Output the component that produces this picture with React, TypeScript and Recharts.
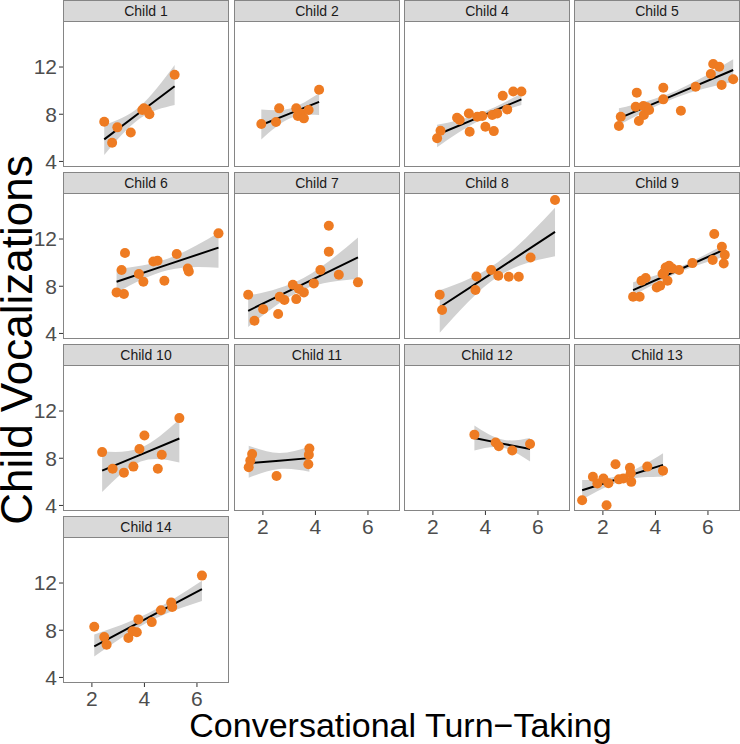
import React from "react";
import { ComposedChart, XAxis, YAxis, Area, Line, Scatter } from "recharts";

const panelNames = ["Child 1", "Child 2", "Child 4", "Child 5", "Child 6", "Child 7", "Child 8", "Child 9", "Child 10", "Child 11", "Child 12", "Child 13", "Child 14"];

const X_TICKS = [2, 4, 6];
const Y_TICKS = [4, 8, 12];

// observed points [turn-taking, vocalizations]
const pts1 = [[2.47, 7.37], [2.77, 5.59], [2.97, 6.89], [3.48, 6.46], [3.92, 8.36], [3.98, 8.5], [4.09, 8.36], [4.19, 8.0], [5.15, 11.35]];
const pts2 = [[1.94, 7.17], [2.5, 7.34], [2.62, 8.5], [3.27, 8.5], [3.33, 7.85], [3.43, 8.07], [3.56, 7.65], [3.74, 8.36], [4.14, 10.08]];
const pts4 = [[2.16, 5.96], [2.29, 6.6], [2.92, 7.7], [3.02, 7.51], [3.37, 8.07], [3.4, 6.51], [3.69, 7.79], [3.88, 7.85], [4.0, 6.94], [4.26, 7.94], [4.32, 6.57], [4.45, 8.07], [4.66, 9.56], [4.83, 8.41], [5.06, 9.93], [5.37, 9.93]];
const pts5 = [[2.61, 7.0], [2.68, 7.79], [3.25, 8.64], [3.29, 9.83], [3.37, 7.42], [3.54, 8.7], [3.56, 7.94], [3.67, 8.59], [3.76, 8.36], [4.3, 10.25], [4.3, 9.26], [4.97, 8.3], [5.53, 10.33], [6.11, 11.41], [6.2, 12.25], [6.43, 12.03], [6.52, 10.47], [6.96, 10.96]];
const pts6 = [[2.94, 7.48], [3.22, 7.34], [3.13, 9.37], [3.26, 10.81], [3.79, 9.04], [3.96, 8.38], [4.34, 10.1], [4.5, 10.16], [4.76, 8.46], [5.23, 10.73], [5.65, 9.5], [5.69, 9.25], [6.82, 12.48]];
const pts7 = [[1.44, 7.28], [1.68, 5.08], [2.01, 6.06], [2.58, 5.65], [2.64, 7.11], [2.82, 6.83], [3.14, 8.13], [3.27, 6.91], [3.37, 7.76], [3.56, 7.48], [3.94, 8.24], [4.19, 9.37], [4.51, 13.13], [4.51, 10.93], [4.89, 8.98], [5.62, 8.33]];
const pts8 = [[2.26, 7.28], [2.35, 5.99], [3.62, 7.68], [3.66, 8.83], [4.22, 9.37], [4.49, 8.89], [4.89, 8.8], [5.27, 8.8], [5.72, 10.44], [6.65, 15.3]];
const pts9 = [[3.15, 7.11], [3.4, 7.11], [3.47, 8.46], [3.63, 8.7], [4.05, 7.9], [4.18, 8.04], [4.27, 9.04], [4.33, 9.17], [4.39, 9.59], [4.46, 8.46], [4.52, 9.74], [4.65, 9.5], [4.9, 9.37], [5.41, 9.96], [6.18, 10.22], [6.24, 12.42], [6.53, 11.35], [6.6, 9.93], [6.64, 10.66]];
const pts10 = [[2.39, 8.52], [2.79, 7.11], [3.22, 6.78], [3.58, 7.29], [3.81, 8.78], [4.0, 9.92], [4.51, 7.11], [4.66, 8.29], [5.33, 11.4]];
const pts11 = [[1.46, 7.23], [1.52, 7.8], [1.59, 8.35], [2.52, 6.49], [3.73, 7.49], [3.75, 8.29], [3.77, 8.83]];
const pts12 = [[3.58, 10.0], [4.39, 9.34], [4.51, 9.01], [5.02, 8.66], [5.7, 9.2]];
const pts13 = [[1.21, 4.44], [1.62, 6.43], [1.79, 5.86], [2.02, 6.29], [2.14, 4.02], [2.21, 5.89], [2.48, 7.49], [2.61, 6.21], [2.78, 6.29], [3.03, 7.2], [3.06, 6.72], [3.08, 6.0], [3.69, 7.29], [4.29, 6.95]];
const pts14 = [[2.09, 8.29], [2.47, 7.43], [2.56, 6.78], [3.39, 7.35], [3.55, 7.92], [3.71, 7.83], [3.77, 8.92], [4.28, 8.69], [4.63, 9.69], [5.02, 10.35], [5.06, 9.97], [6.19, 12.63]];

// smooth line + ribbon: [x, fit, lower, upper]
const fit1 = [[2.47, 5.87, 4.54, 7.09], [3.81, 8.12, 7.61, 8.64], [5.15, 10.37, 8.78, 12.17]];
const fit2 = [[1.94, 7.09, 5.87, 8.41], [3.04, 8.07, 7.66, 8.49], [4.14, 9.05, 7.94, 9.77]];
const fit4 = [[2.16, 6.26, 5.2, 7.1], [3.77, 7.76, 7.46, 8.05], [5.37, 9.26, 8.78, 9.76]];
const fit5 = [[2.61, 7.65, 7.09, 8.5], [4.79, 9.7, 9.42, 10.0], [6.96, 11.75, 10.75, 12.65]];
const fit6 = [[2.94, 8.38, 7.46, 9.44], [4.88, 9.83, 9.35, 10.32], [6.82, 11.27, 9.57, 12.54]];
const fit7 = [[1.44, 5.92, 4.55, 7.19], [3.53, 8.18, 7.7, 8.68], [5.62, 10.44, 8.61, 12.14]];
const fit8 = [[2.26, 6.22, 4.05, 7.65], [4.46, 9.41, 8.8, 10.02], [6.65, 12.6, 10.55, 14.65]];
const fit9 = [[3.15, 7.67, 7.2, 8.33], [4.9, 9.4, 9.18, 9.62], [6.64, 11.12, 10.52, 11.56]];
const fit10 = [[2.39, 6.95, 5.14, 8.57], [3.86, 8.31, 7.72, 8.9], [5.33, 9.67, 7.64, 11.29]];
const fit11 = [[1.46, 7.58, 6.35, 9.06], [2.62, 7.79, 7.08, 8.45], [3.77, 8.01, 6.86, 9.0]];
const fit12 = [[3.58, 9.71, 8.66, 10.78], [4.64, 9.24, 8.9, 9.59], [5.7, 8.78, 7.72, 9.71]];
const fit13 = [[1.21, 5.29, 4.49, 6.15], [2.75, 6.37, 6.09, 6.63], [4.29, 7.44, 6.43, 8.43]];
const fit14 = [[2.09, 6.63, 5.77, 7.64], [4.14, 9.06, 8.7, 9.44], [6.19, 11.49, 10.48, 12.2]];

const allPoints = [pts1, pts2, pts4, pts5, pts6, pts7, pts8, pts9, pts10, pts11, pts12, pts13, pts14];
const allFits = [fit1, fit2, fit4, fit5, fit6, fit7, fit8, fit9, fit10, fit11, fit12, fit13, fit14];

const COL_LEFT = [63, 234, 404, 574];
const ROW_TOP = [0, 172, 344, 516];
const PANEL_W = 166;
const STRIP_H = 21;
const PLOT_H = 146;
const X_DOMAIN = [0.9, 7.22];
const Y_DOMAIN = [3.53, 15.9];

const BORDER = "#858585";
const ORANGE = "#EE7B22";

const Dot = (props: any) => <circle cx={props.cx} cy={props.cy} r={5} fill={ORANGE} />;

function Panel({ idx }: { idx: number }) {
  const col = idx % 4;
  const row = Math.floor(idx / 4);
  const showY = col === 0;
  const showX = idx >= 9;
  const L = COL_LEFT[col];
  const T = ROW_TOP[row];
  const yAxisW = showY ? L : 0;
  const xAxisH = showX ? 44 : 0;
  // extra room under the plot so the lowest y label is not clipped
  const padB = showY && !showX ? 14 : 0;
  const chartW = PANEL_W + yAxisW;
  const chartH = PLOT_H + xAxisH + padB;
  const rows = allFits[idx].map(([x, f, lo, hi]) => ({ x, fit: f, band: [lo, hi] }));
  const pts = allPoints[idx].map(([x, y]) => ({ x, y }));

  return (
    <>
      <div
        style={{
          position: "absolute",
          left: L,
          top: T,
          width: PANEL_W,
          height: STRIP_H + PLOT_H,
          border: `1px solid ${BORDER}`,
          boxSizing: "border-box",
        }}
      >
        <div
          style={{
            height: STRIP_H,
            background: "#d9d9d9",
            borderBottom: `1px solid ${BORDER}`,
            boxSizing: "border-box",
            textAlign: "center",
            fontSize: 14,
            lineHeight: `${STRIP_H - 1}px`,
            color: "#1a1a1a",
          }}
        >
          {panelNames[idx]}
        </div>
      </div>
      <div style={{ position: "absolute", left: L - yAxisW, top: T + STRIP_H, width: chartW, height: chartH }}>
        <ComposedChart width={chartW} height={chartH} data={rows} margin={{ top: 0, right: 0, bottom: padB, left: 0 }}>
          <XAxis
            type="number"
            dataKey="x"
            domain={X_DOMAIN}
            ticks={X_TICKS}
            interval={0}
            allowDataOverflow
            hide={!showX}
            height={xAxisH}
            axisLine={false}
            tickLine={{ stroke: "#333" }}
            tickSize={4}
            tickMargin={4}
            tick={{ fill: "#4d4d4d", fontSize: 21 }}
          />
          <YAxis
            type="number"
            domain={Y_DOMAIN}
            ticks={Y_TICKS}
            interval={0}
            allowDataOverflow
            hide={!showY}
            width={yAxisW}
            axisLine={false}
            tickLine={{ stroke: "#333" }}
            tickSize={4}
            tickMargin={2}
            tick={{ fill: "#4d4d4d", fontSize: 21 }}
          />
          <Area dataKey="band" type="natural" stroke="none" fill="#d1d1d1" fillOpacity={1} isAnimationActive={false} />
          <Line dataKey="fit" type="linear" stroke="#000" strokeWidth={2} dot={false} isAnimationActive={false} />
          <Scatter data={pts} dataKey="y" fill={ORANGE} shape={Dot} isAnimationActive={false} />
        </ComposedChart>
      </div>
    </>
  );
}

export default function App() {
  return (
    <div
      style={{
        position: "absolute",
        left: 0,
        top: 0,
        width: 740,
        height: 744,
        overflow: "hidden",
        background: "#fff",
        fontFamily: '"Liberation Sans", Arial, Helvetica, sans-serif',
      }}
    >
      {panelNames.map((_, i) => (
        <Panel key={i} idx={i} />
      ))}
      <svg width={740} height={744} style={{ position: "absolute", left: 0, top: 0, pointerEvents: "none" }}>
        <text x={400.5} y={736.5} textAnchor="middle" fontSize={34} fill="#000">
          Conversational Turn−Taking
        </text>
        <text transform="translate(32,340) rotate(-90)" textAnchor="middle" fontSize={44} fill="#000">
          Child Vocalizations
        </text>
      </svg>
    </div>
  );
}
